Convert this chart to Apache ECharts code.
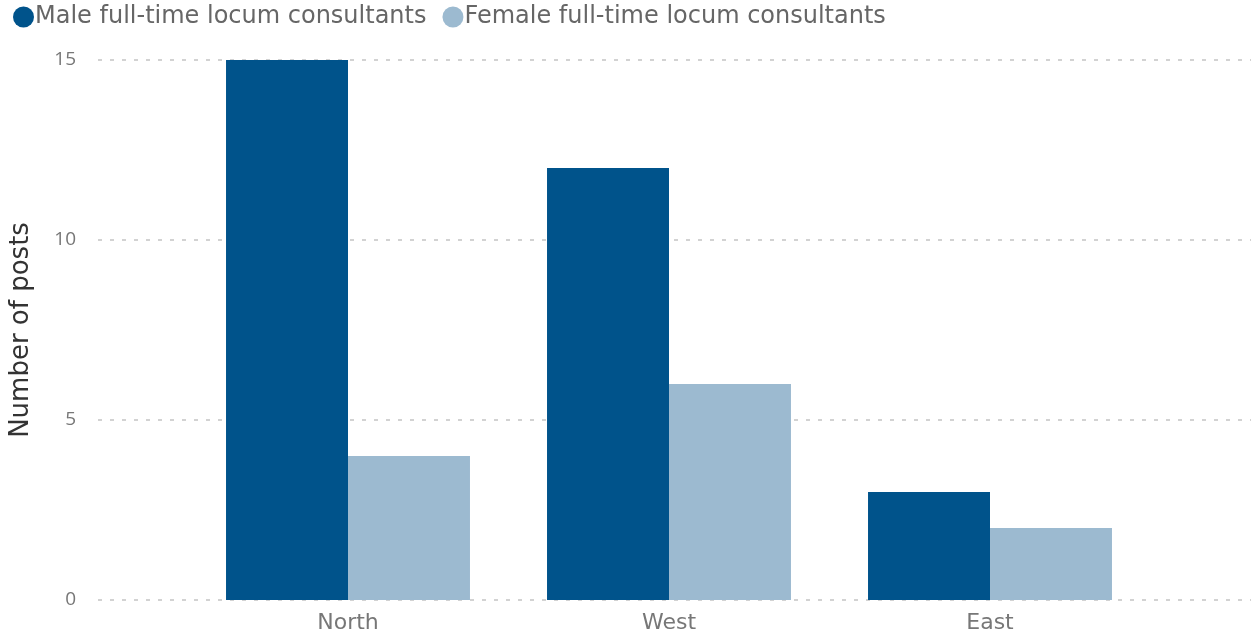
<!DOCTYPE html>
<html style="height: 100%; margin: 0">
<head>
<meta charset="UTF-8">
<title>Locum consultants</title>
</head>
<body style="height: 100%; margin: 0; background: #fff">
<div id="container" style="width:1251px;height:638px"></div>
<script type="text/javascript" src="https://cdn.jsdelivr.net/npm/echarts@6/dist/echarts.min.js"></script>
<script type="text/javascript">
	var regions = ['North', 'West', 'East'];
	var male = [15, 12, 3];
	var female = [4, 6, 2];
	var yTicks = [0, 5, 10, 15];

	var dom = document.getElementById("container");
	var myChart = echarts.init(dom);
	var wide = 'DejaVu Sans';
	var option = {
	    animation: false,
	    textStyle: { fontFamily: 'Open Sans' },
	    legend: {
	        left: 8,
	        top: 0,
	        icon: 'circle',
	        itemWidth: 21,
	        itemHeight: 21,
	        itemGap: 16,
	        textStyle: { fontFamily: wide, fontSize: 24, color: '#666', padding: [0, 0, 0, -4] }
	    },
	    grid: [
	        { left: 97, right: 0, top: 60, bottom: 38 },
	        { left: 187.5, right: 100.5, top: 60, bottom: 38 }
	    ],
	    xAxis: [
	        { gridIndex: 0, type: 'category', data: regions, show: false },
	        {
	            gridIndex: 1,
	            type: 'category',
	            data: regions,
	            axisLine: { show: false },
	            axisTick: { show: false },
	            axisLabel: { fontFamily: wide, fontSize: 22, color: '#777', margin: 12 }
	        }
	    ],
	    yAxis: [
	        {
	            gridIndex: 0,
	            type: 'value',
	            min: 0,
	            max: 15,
	            interval: 5,
	            name: 'Number of posts',
	            nameLocation: 'middle',
	            nameGap: 64,
	            nameTextStyle: { fontFamily: wide, fontSize: 26, color: '#333' },
	            axisLabel: {
	                fontSize: 19, color: '#777', margin: 22,
	                formatter: function (v) { return yTicks.indexOf(v) >= 0 ? v : ''; }
	            },
	            splitLine: { lineStyle: { color: '#c4c4c4', width: 1.5, type: [4, 8] } }
	        },
	        { gridIndex: 1, type: 'value', min: 0, max: 15, show: false }
	    ],
	    series: [
	        {
	            name: 'Male full-time locum consultants',
	            type: 'bar',
	            xAxisIndex: 1,
	            yAxisIndex: 1,
	            barGap: '0%',
	            barCategoryGap: '24%',
	            itemStyle: { color: '#00538b' },
	            data: male
	        },
	        {
	            name: 'Female full-time locum consultants',
	            type: 'bar',
	            xAxisIndex: 1,
	            yAxisIndex: 1,
	            barGap: '0%',
	            barCategoryGap: '24%',
	            itemStyle: { color: '#9cbad0' },
	            data: female
	        }
	    ]
	};
	myChart.setOption(option, true);
</script>
</body>
</html>
